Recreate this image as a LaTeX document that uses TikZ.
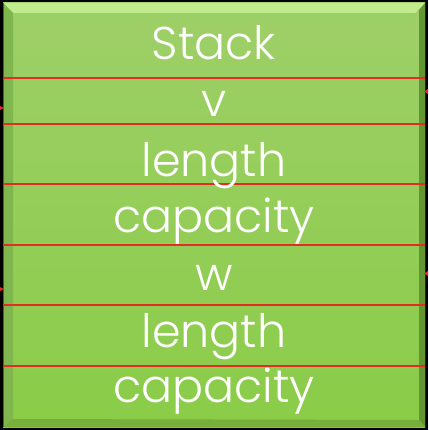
\documentclass[tikz,border=0pt]{standalone}
\usepackage{fontspec}
\setmainfont{Poppins Light}
\definecolor{bgblack}{RGB}{0,0,0}
\definecolor{fieldtop}{RGB}{158,207,104}
\definecolor{fieldbot}{RGB}{138,204,72}
\definecolor{bevellight}{RGB}{192,236,142}
\definecolor{bevelleft}{RGB}{128,182,78}
\definecolor{bevelright}{RGB}{98,150,50}
\definecolor{bevelbottom}{RGB}{118,176,58}
\definecolor{sepred}{RGB}{226,44,36}
\tikzset{
  field/.style={anchor=base, text=white, inner sep=0pt,
    font=\fontsize{46}{46}\selectfont},
  separator/.style={draw=sepred, line width=2.8pt},
  pointertip/.style={fill=sepred, draw=none}
}
\begin{document}
\begin{tikzpicture}[x=1pt,y=-1pt]
  % black page
  \fill[bgblack] (0,0) rectangle (428,430);
  \useasboundingbox (0,0) rectangle (428,430);
  % green record body
  \shade[top color=fieldtop, bottom color=fieldbot] (3,3) rectangle (425,427);
  % bevelled edges
  \fill[bevellight]  (3,3) -- (425,3) -- (415,13) -- (13,13) -- cycle;
  \fill[bevelleft]   (3,3) -- (13,13) -- (13,419) -- (3,427) -- cycle;
  \fill[bevelright]  (425,3) -- (425,427) -- (419,420) -- (419,10) -- cycle;
  \fill[bevelbottom] (3,427) -- (13,419) -- (419,420) -- (425,427) -- cycle;
  \draw[bevelright!70!black, line width=1pt] (3.5,3) -- (3.5,427);
  % separators between the fields
  \foreach \y/\n in {78/a,124/b,184/c,245/d,305/e,366/f} {
    \coordinate (l\n) at (3,\y);
    \coordinate (r\n) at (425,\y);
    \draw[separator] (l\n) -- (r\n);
  }
  % field labels
  \node[field] (stack) at (214,60)  {Stack};
  \node[field] (v)     at (214,117) {v};
  \node[field] (len1)  at (214,177) {length};
  \node[field] (cap1)  at (214,232) {capacity};
  \node[field] (w)     at (214,290) {w};
  \node[field] (len2)  at (214,347) {length};
  \node[field] (cap2)  at (214,402) {capacity};
  % ends of pointers reaching the record
  \fill[pointertip] (0,106) -- (4,108) -- (0,110) -- cycle;
  \fill[pointertip] (0,287) -- (4,289) -- (0,291) -- cycle;
  \fill[pointertip] (428,89) -- (424,91.5) -- (428,94) -- cycle;
  \fill[pointertip] (428,271) -- (424,273.5) -- (428,276) -- cycle;
\end{tikzpicture}
\end{document}
